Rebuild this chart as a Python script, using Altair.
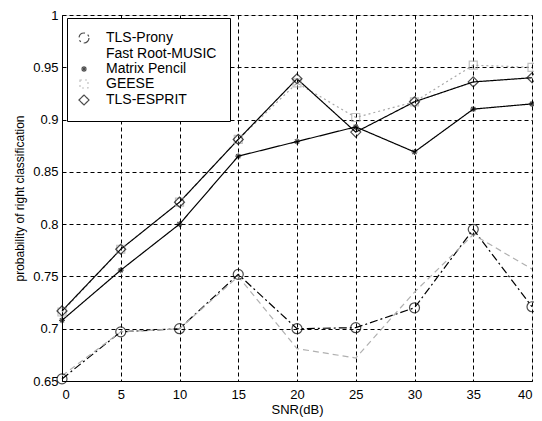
import altair as alt
import pandas as pd

snr = [0, 5, 10, 15, 20, 25, 30, 35, 40]
methods = ["TLS-Prony", "Fast Root-MUSIC", "Matrix Pencil", "GEESE", "TLS-ESPRIT"]
tls_prony = [0.652, 0.697, 0.700, 0.752, 0.700, 0.701, 0.720, 0.795, 0.721]
fast_root_music = [0.655, 0.697, 0.700, 0.750, 0.681, 0.672, 0.735, 0.790, 0.757]
matrix_pencil = [0.708, 0.756, 0.800, 0.865, 0.879, 0.893, 0.869, 0.910, 0.915]
geese = [0.716, 0.776, 0.821, 0.881, 0.935, 0.902, 0.917, 0.952, 0.950]
tls_esprit = [0.717, 0.776, 0.821, 0.881, 0.939, 0.888, 0.917, 0.936, 0.940]

series = [tls_prony, fast_root_music, matrix_pencil, geese, tls_esprit]
rows = []
for m, vals in zip(methods, series):
    for x, v in zip(snr, vals):
        rows.append({"snr": x, "p": v, "method": m})
df = pd.DataFrame(rows)

font = "Liberation Sans"
colors = ["#000000", "#b0b0b0", "#000000", "#a8a8a8", "#000000"]
dashes = [[8, 3, 2, 3], [6, 4], [1, 0], [2, 3], [1, 0]]
star = "M-0.6,0L0.6,0M0,-0.6L0,0.6M-0.42,-0.42L0.42,0.42M-0.42,0.42L0.42,-0.42"
square = "M-0.8,-0.8L0.8,-0.8L0.8,0.8L-0.8,0.8Z"
shapes = ["circle", "M0,0L0,0", star, square, "diamond"]

xenc = alt.X("snr:Q", title="SNR(dB)",
             scale=alt.Scale(domain=[0, 40], nice=False, zero=False),
             axis=alt.Axis(values=snr, grid=True, gridDash=[4, 3], gridColor="#000000",
                           gridOpacity=1, gridWidth=1, ticks=False, domainColor="#000000",
                           labelFontSize=13, labelColor="#000000", labelPadding=7,
                           titleFontSize=13, titleFontWeight="normal", titleColor="#000000",
                           titlePadding=2, labelFont=font, titleFont=font))
yenc = alt.Y("p:Q", title="probability of right classification",
             scale=alt.Scale(domain=[0.65, 1.0], nice=False, zero=False),
             axis=alt.Axis(values=[0.65, 0.7, 0.75, 0.8, 0.85, 0.9, 0.95, 1.0], format="~g",
                           grid=True, gridDash=[4, 3], gridColor="#000000", gridOpacity=1,
                           gridWidth=1, ticks=False, domainColor="#000000",
                           labelFontSize=13, labelColor="#000000", labelPadding=4,
                           titleFontSize=12, titleFontWeight="normal", titleColor="#000000",
                           titlePadding=6, labelFont=font, titleFont=font))

leg = alt.Legend(title=None, orient="none", legendX=5, legendY=3, fillColor="white",
                 strokeColor="#000000", padding=13, labelFontSize=14, labelFont=font,
                 labelColor="#000000", symbolSize=100, rowPadding=1, symbolStrokeWidth=1.2,
                 labelOffset=15, symbolOffset=-3)

color = alt.Color("method:N", scale=alt.Scale(domain=methods, range=colors), legend=leg)
dash = alt.StrokeDash("method:N", scale=alt.Scale(domain=methods, range=dashes), legend=None)
shape = alt.Shape("method:N", scale=alt.Scale(domain=methods, range=shapes), legend=leg)

lines = alt.Chart(df).mark_line(strokeWidth=1.2).encode(x=xenc, y=yenc, color=color, strokeDash=dash)
points = alt.Chart(df).mark_point(filled=False, size=100, strokeWidth=1.2).encode(
    x=xenc, y=yenc, color=color, shape=shape)

chart = alt.layer(lines, points).properties(
    width=470, height=366,
    autosize=alt.AutoSizeParams(type="none"),
    padding={"left": 54, "top": 7, "right": 2, "bottom": 38},
).configure_view(stroke=None).configure(background="white")

chart.save("out.html", embed_options={"renderer": "svg", "actions": False})
